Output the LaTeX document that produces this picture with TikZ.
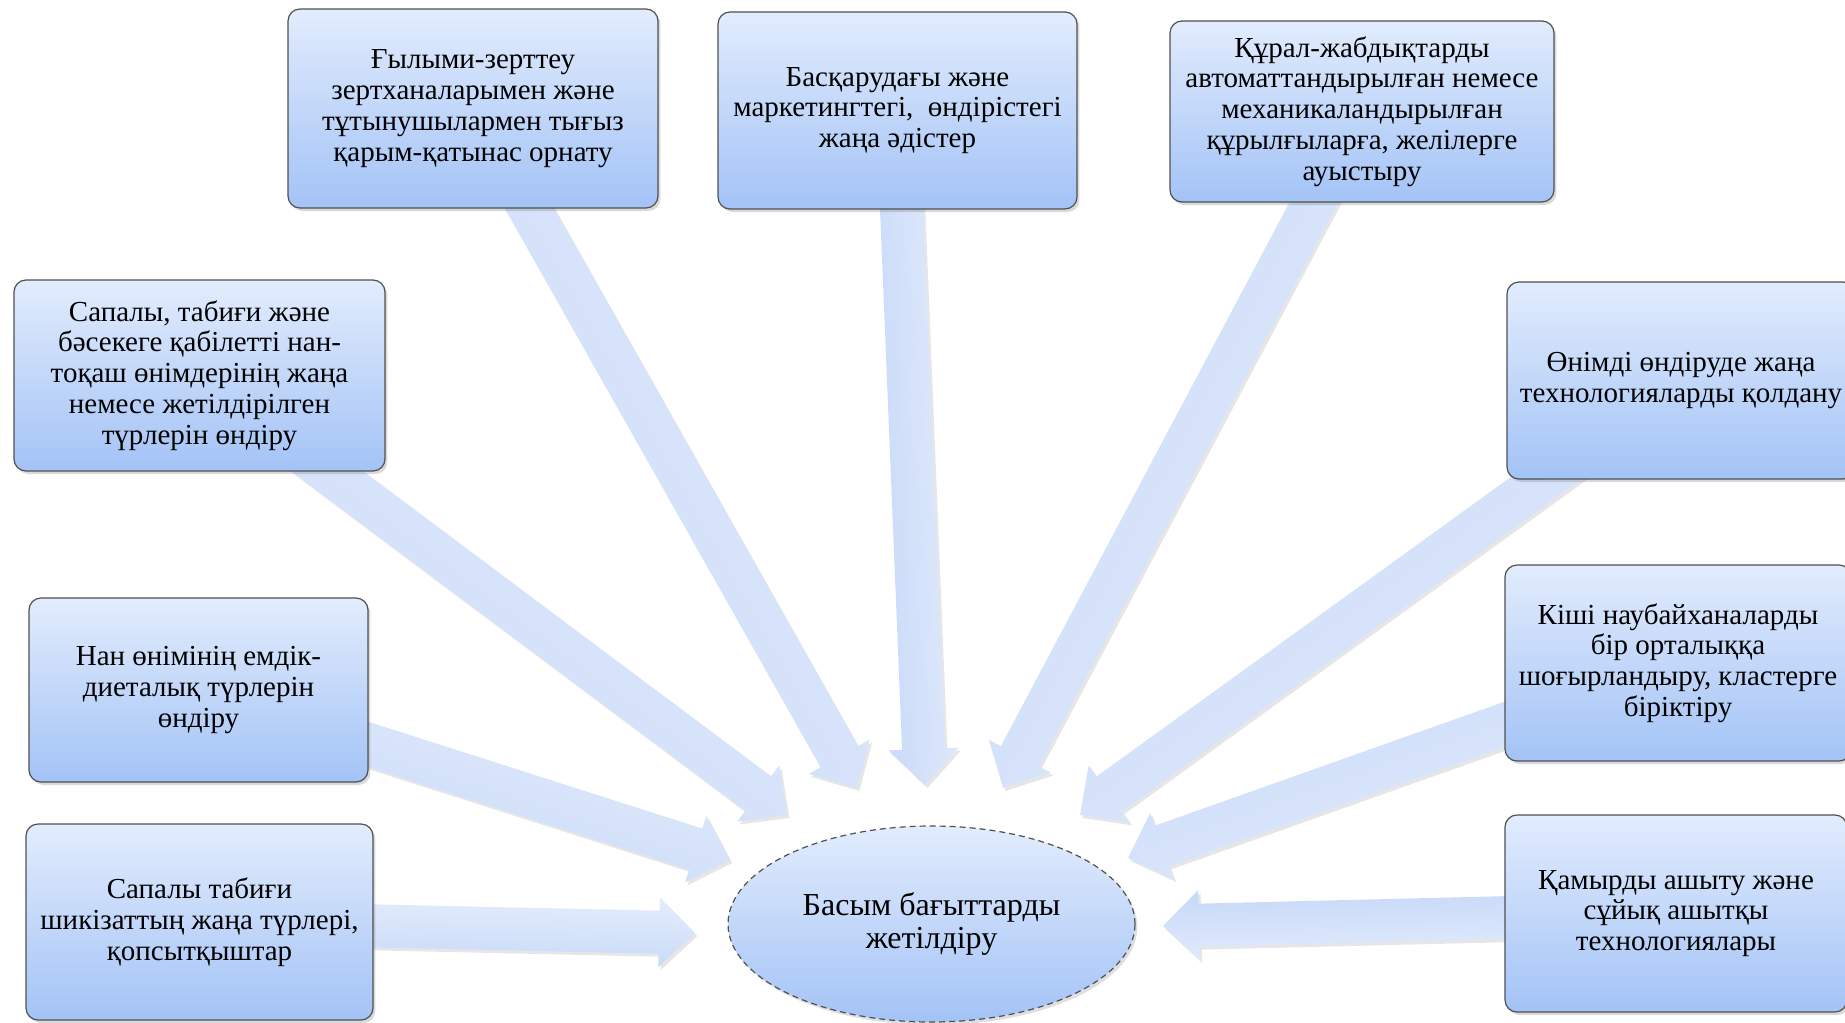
\documentclass[tikz,border=0pt]{standalone}
\usepackage{fontspec}
\setmainfont{Liberation Serif}
\usetikzlibrary{calc,shadows,backgrounds,shapes.geometric}

\definecolor{boxtop}{RGB}{226,236,253}
\definecolor{boxbot}{RGB}{163,195,246}
\definecolor{boxline}{RGB}{80,80,80}
\definecolor{arrowtail}{RGB}{229,237,252}
\definecolor{arrowtip}{RGB}{198,216,248}

\tikzset{
  goal/.style={draw=boxline, line width=0.6pt, rounded corners=6pt,
    top color=boxtop, bottom color=boxbot, align=center, inner sep=2pt,
    font=\fontsize{14.5}{15.4}\selectfont,
    drop shadow={shadow xshift=1.2pt, shadow yshift=-1.5pt, opacity=0.3}},
  aim/.style={ellipse, draw=boxline, line width=0.6pt, densely dashed,
    top color=boxtop, bottom color=boxbot, align=center, inner sep=0pt,
    font=\fontsize{16}{16.8}\selectfont,
    drop shadow={shadow xshift=1.2pt, shadow yshift=-1.5pt, opacity=0.25}},
  flow/.style={left color=arrowtail, right color=arrowtip,
    drop shadow={shadow xshift=1.2pt, shadow yshift=-1.5pt, opacity=0.2}}
}

% block arrow from the centre of #1 to the tip #2
\newcommand\feedarrow[2]{%
  \pgfmathanglebetweenpoints{\pgfpointanchor{#1}{center}}{\pgfpointanchor{#2}{center}}%
  \let\arrang\pgfmathresult
  \coordinate (h) at ($(#2)!18pt!(#1)$);
  \shade[flow, shading angle=\arrang] (#2) -- ($(h)!17.5pt!90:(#2)$) -- ($(h)!10.75pt!90:(#2)$)
    -- ($(#1)!10.75pt!90:(#2)$) -- ($(#1)!10.75pt!-90:(#2)$)
    -- ($(h)!10.75pt!-90:(#2)$) -- ($(h)!17.5pt!-90:(#2)$) -- cycle;
}

\begin{document}
\begin{tikzpicture}[x=0.5pt,y=-0.5pt]
  \useasboundingbox (0,0) rectangle (1845,1022);

  % boxes round the centre
  \node[goal, minimum width=185pt, minimum height=99.5pt] (b1) at (473,108.5)
    {Ғылыми-зерттеу\\зертханаларымен және\\тұтынушылармен тығыз\\қарым-қатынас орнату};
  \node[goal, minimum width=179.5pt, minimum height=98.5pt] (b2) at (897.5,110.5)
    {Басқарудағы және\\маркетингтегі, \ өндірістегі\\жаңа әдістер};
  \node[goal, minimum width=192pt, minimum height=90.5pt] (b3) at (1362,111.5)
    {Құрал-жабдықтарды\\автоматтандырылған немесе\\механикаландырылған\\құрылғыларға, желілерге\\ауыстыру};
  \node[goal, minimum width=185.5pt, minimum height=95.5pt] (b4) at (199.5,375.5)
    {Сапалы, табиғи және\\бәсекеге қабілетті нан-\\тоқаш өнімдерінің жаңа\\немесе жетілдірілген\\түрлерін өндіру};
  \node[goal, minimum width=174pt, minimum height=98.5pt] (b5) at (1681,380.5)
    {Өнімді өндіруде жаңа\\технологияларды қолдану};
  \node[goal, minimum width=169.5pt, minimum height=92pt] (b6) at (198.5,690)
    {Нан өнімінің емдік-\\диеталық түрлерін\\өндіру};
  \node[goal, minimum width=173pt, minimum height=98pt] (b7) at (1678,663)
    {Кіші наубайханаларды\\бір орталыққа\\шоғырландыру, кластерге\\біріктіру};
  \node[goal, minimum width=173.5pt, minimum height=98pt] (b8) at (199.5,922)
    {Сапалы табиғи\\шикізаттың жаңа түрлері,\\қопсытқыштар};
  \node[goal, minimum width=171pt, minimum height=98.5pt] (b9) at (1676,913.5)
    {Қамырды ашыту және\\сұйық ашытқы\\технологиялары};

  \node[aim, minimum width=203.5pt, minimum height=98pt] (core) at (931.5,924)
    {Басым бағыттарды\\жетілдіру};

  % arrow tips
  \coordinate (t1) at (857,788);
  \coordinate (t2) at (925,785);
  \coordinate (t3) at (1003,788);
  \coordinate (t4) at (787,815);
  \coordinate (t5) at (1080,815);
  \coordinate (t6) at (730,860);
  \coordinate (t7) at (1128,858);
  \coordinate (t8) at (695,933);
  \coordinate (t9) at (1163,926);

  \begin{scope}[on background layer]
    \feedarrow{b1}{t1}
    \feedarrow{b2}{t2}
    \feedarrow{b3}{t3}
    \feedarrow{b4}{t4}
    \feedarrow{b5}{t5}
    \feedarrow{b6}{t6}
    \feedarrow{b7}{t7}
    \feedarrow{b8}{t8}
    \feedarrow{b9}{t9}
  \end{scope}
\end{tikzpicture}
\end{document}
